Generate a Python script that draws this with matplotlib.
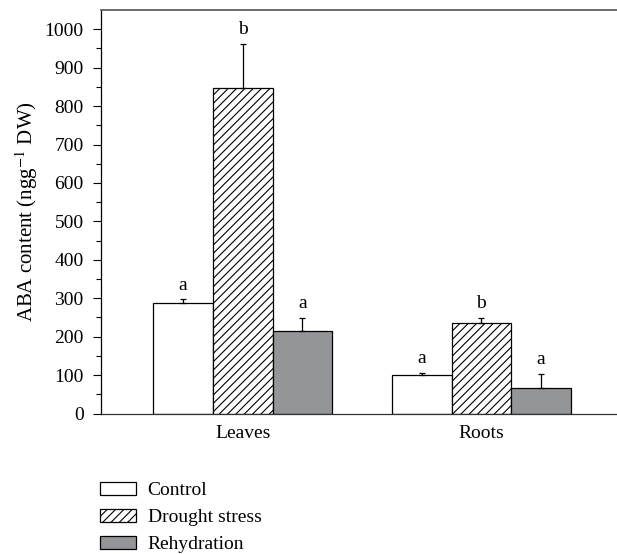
import numpy as np
import matplotlib
matplotlib.use("Agg")
import matplotlib.pyplot as plt
from matplotlib.patches import Patch

# data
organs = ["Leaves", "Roots"]
treatments = ["Control", "Drought stress", "Rehydration"]
control = [287, 100]
control_err = [10, 5]
drought = [847, 236]
drought_err = [115, 13]
rehydration = [215, 67]
rehydration_err = [34, 37]
letters = [["a", "a"], ["b", "b"], ["a", "a"]]

matplotlib.rcParams.update({'font.size': 14,
                            'font.family': 'Liberation Serif',
                            'mathtext.fontset': 'stix',
                            'hatch.linewidth': 0.8})

fig = plt.figure(figsize=(6.17, 5.54), dpi=100)
ax = fig.add_axes([101/617, 140.5/554, 516/617, 403.5/554])

x = np.arange(len(organs))
w = 0.25
series = [(control, control_err, 'white', ''),
          (drought, drought_err, 'white', '////'),
          (rehydration, rehydration_err, '#939598', '')]

for i, (vals, errs, col, hatch) in enumerate(series):
    pos = x + (i - 1) * w
    ax.bar(pos, vals, w, color=col, edgecolor='black', linewidth=0.9,
           hatch=hatch, zorder=2)
    ax.errorbar(pos, vals, yerr=[np.zeros(len(vals)), errs], fmt='none',
                ecolor='black', elinewidth=0.9, capsize=2.5, capthick=0.9,
                zorder=3)
    for p, v, e, t in zip(pos, vals, errs, letters[i]):
        ax.annotate(t, (p, v + e), xytext=(0, 7), textcoords='offset points',
                    ha='center', va='baseline', fontsize=14)

ax.set_xlim(-0.594, 1.568)
ax.set_ylim(0, 1050)
ax.set_yticks(np.arange(0, 1001, 100))
ax.set_yticks(np.arange(50, 1001, 100), minor=True)
ax.set_xticks(x)
ax.set_xticklabels(organs)
ax.tick_params(axis='x', length=0, pad=8)
ax.tick_params(axis='y', which='major', direction='out', length=6, width=0.8, pad=6.5)
ax.tick_params(axis='y', which='minor', direction='out', length=3.5, width=0.8)
ax.set_ylabel(r'ABA content (ngg$^{-1}$ DW)', labelpad=3, fontsize=15)

ax.spines['right'].set_visible(False)
ax.spines['top'].set_color('#606060')
ax.spines['top'].set_linewidth(1.3)
ax.spines['left'].set_linewidth(0.9)
ax.spines['bottom'].set_linewidth(0.9)
ax.spines['bottom'].set_color('#333333')

handles = [Patch(facecolor='white', edgecolor='black', linewidth=0.9),
           Patch(facecolor='white', edgecolor='black', linewidth=0.9, hatch='////'),
           Patch(facecolor='#939598', edgecolor='black', linewidth=0.9)]
fig.legend(handles, treatments, loc='upper left',
           bbox_to_anchor=(100/617, 1 - 482/554), frameon=False,
           borderpad=0, borderaxespad=0, handlelength=1.85, handleheight=0.65,
           handletextpad=0.6, labelspacing=0.5, fontsize=14)

plt.savefig('out.png', dpi=100)
